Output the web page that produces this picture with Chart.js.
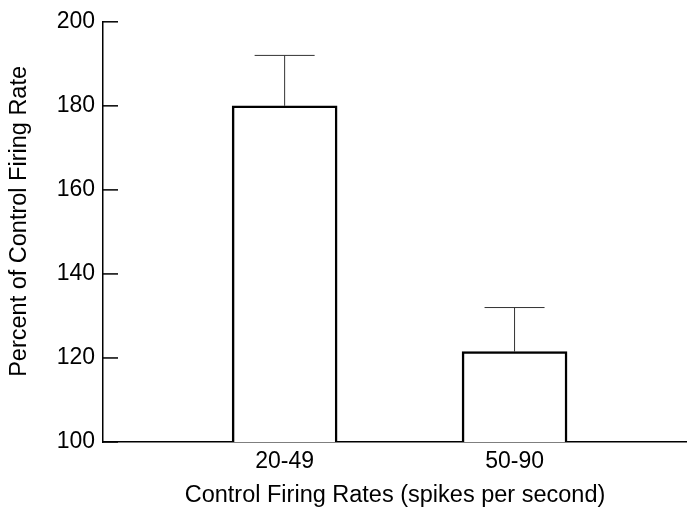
<!DOCTYPE html>
<html>
<head>
<meta charset="utf-8">
<script src="https://cdn.jsdelivr.net/npm/chart.js@4"></script>
<style>
  body { margin: 0; background: #fff; }
  #wrap { width: 687px; height: 510px; }
</style>
</head>
<body>
<div id="wrap"><canvas id="chart"></canvas></div>
<script>
const categories = ["20-49", "50-90"]
const positions = [1, 2]
const meanValues = [180, 121.5]
const errorTops = [192, 132]
const yTicks = [100, 120, 140, 160, 180, 200]
const yTitle = "Percent of Control Firing Rate"

const fontFamily = "'Liberation Sans', Arial, sans-serif"

// error bars, inward y ticks and the y title (sits a bit above centre in the original)
const extras = {
  id: "extras",
  afterDatasetsDraw(chart) {
    const ctx = chart.ctx
    const y = chart.scales.y
    const meta = chart.getDatasetMeta(0)
    ctx.save()
    ctx.strokeStyle = "#333"
    ctx.lineWidth = 1
    meta.data.forEach((bar, i) => {
      const top = y.getPixelForValue(errorTops[i])
      ctx.beginPath()
      ctx.moveTo(bar.x, bar.y)
      ctx.lineTo(bar.x, top)
      ctx.moveTo(bar.x - 30, top)
      ctx.lineTo(bar.x + 30, top)
      ctx.stroke()
    })
    ctx.strokeStyle = "#000"
    ctx.lineWidth = 1.5
    const left = chart.chartArea.left
    yTicks.forEach((v) => {
      const py = y.getPixelForValue(v)
      ctx.beginPath()
      ctx.moveTo(left, py)
      ctx.lineTo(left + 15, py)
      ctx.stroke()
    })

    ctx.translate(20, y.getPixelForValue(152.5))
    ctx.rotate(-Math.PI / 2)
    ctx.fillStyle = "#000"
    ctx.font = "23.5px " + fontFamily
    ctx.textAlign = "center"
    ctx.textBaseline = "middle"
    ctx.fillText(yTitle, 0, 0)
    ctx.restore()
  },
}

new Chart(document.getElementById("chart"), {
  type: "bar",
  data: {
    datasets: [
      {
        data: positions.map((p, i) => ({ x: p, y: meanValues[i] })),
        base: 100,
        backgroundColor: "#fff",
        borderColor: "#000",
        borderWidth: 2.5,
        barThickness: 105,
      },
    ],
  },
  options: {
    responsive: true,
    maintainAspectRatio: false,
    animation: false,
    layout: { padding: { top: 19, right: 0 } },
    plugins: { legend: { display: false }, tooltip: { enabled: false } },
    scales: {
      x: {
        type: "linear",
        offset: false,
        min: 0.21,
        max: 2.75,
        afterBuildTicks: (scale) => {
          scale.ticks = positions.map((p) => ({ value: p }))
        },
        afterFit: (scale) => {
          scale.height = 68
        },
        grid: { display: false, drawTicks: false },
        border: { display: true, color: "#000", width: 1.5 },
        ticks: {
          color: "#000",
          padding: 6,
          font: { family: fontFamily, size: 23 },
          callback: (v) => categories[positions.indexOf(v)] || "",
        },
        title: {
          display: true,
          text: "Control Firing Rates (spikes per second)",
          color: "#000",
          padding: { top: 0, bottom: 0 },
          font: { family: fontFamily, size: 23.5 },
        },
      },
      y: {
        min: 100,
        max: 200,
        afterBuildTicks: (scale) => {
          scale.ticks = yTicks.map((v) => ({ value: v }))
        },
        afterFit: (scale) => {
          scale.width = 103
        },
        grid: { display: false, drawTicks: false },
        border: { display: true, color: "#000", width: 1.5 },
        ticks: {
          color: "#000",
          padding: 8,
          font: { family: fontFamily, size: 23 },
        },
      },
    },
  },
  plugins: [extras],
})
</script>
</body>
</html>
